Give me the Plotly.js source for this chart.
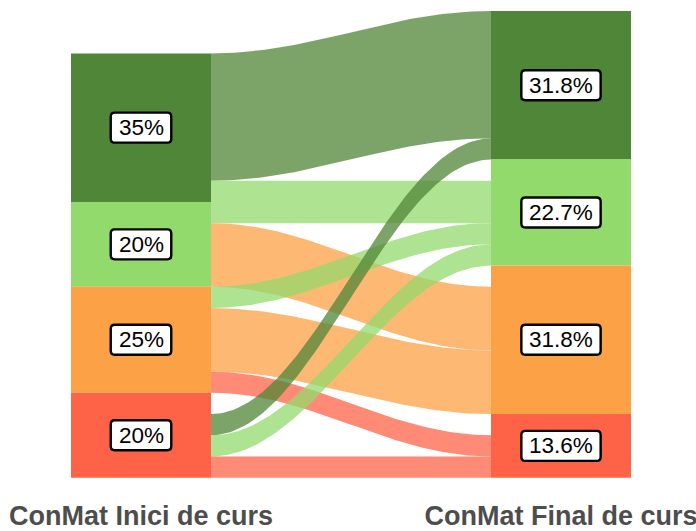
<!DOCTYPE html>
<html><head><meta charset="utf-8">
<script src="https://cdn.plot.ly/plotly-3.0.1.min.js"></script>
<style>html,body{margin:0;padding:0;background:#fff;} #chart{width:696px;height:531px;}</style>
</head><body><div id="chart"></div>
<script>
// ---- data ----
const categories = ['Nivell 1', 'Nivell 2', 'Nivell 3', 'Nivell 4'];
const categoryColors = ['#508637', '#93DA6C', '#FCA146', '#FF6347'];
const axisLabels = ['ConMat Inici de curs', 'ConMat Final de curs'];
const initialCounts = [7, 4, 5, 4];
const finalCounts = [7, 5, 7, 3];
const linkSource = [0, 0, 1, 1, 2, 2, 2, 3, 3, 3];
const linkTarget = [0, 1, 1, 2, 1, 2, 3, 0, 1, 3];
const linkValue  = [6, 1, 1, 3, 1, 3, 1, 1, 1, 1];

// ---- build ----
const W = 1/3;            // stratum width (axis units)
const LINK_ALPHA = 0.75;
const axX = [1, 2];

function bases(counts) {
  const b = [];
  for (let i = 0; i < counts.length; i++) {
    let s = 0;
    for (let j = i + 1; j < counts.length; j++) s += counts[j];
    b.push(s);
  }
  return b;
}
const leftBase = bases(initialCounts);
const rightBase = bases(finalCounts);

function rgba(hex, a) {
  const r = parseInt(hex.slice(1,3),16), g = parseInt(hex.slice(3,5),16), b = parseInt(hex.slice(5,7),16);
  return `rgba(${r},${g},${b},${a})`;
}

// stacking positions for links
const linkIdx = linkValue.map((_, i) => i);
const leftPos = {}, rightPos = {};
categories.forEach((_, s) => {
  let y = leftBase[s];
  linkIdx.filter(i => linkSource[i] === s).sort((a, b) => linkTarget[b] - linkTarget[a]).forEach(i => {
    leftPos[i] = [y, y + linkValue[i]]; y += linkValue[i];
  });
});
categories.forEach((_, t) => {
  let y = rightBase[t];
  linkIdx.filter(i => linkTarget[i] === t).sort((a, b) => linkSource[b] - linkSource[a]).forEach(i => {
    rightPos[i] = [y, y + linkValue[i]]; y += linkValue[i];
  });
});

const K = 0.37, N = 80;
function curve(x0, y0, x1, y1) {
  const dx = x1 - x0, px = [], py = [];
  const c1x = x0 + K*dx, c2x = x1 - K*dx;
  for (let k = 0; k <= N; k++) {
    const t = k / N, u = 1 - t;
    px.push(u*u*u*x0 + 3*u*u*t*c1x + 3*u*t*t*c2x + t*t*t*x1);
    py.push(u*u*u*y0 + 3*u*u*t*y0 + 3*u*t*t*y1 + t*t*t*y1);
  }
  return [px, py];
}

const traces = [];
// strata as bars
categories.forEach((c, i) => {
  traces.push({
    type: 'bar', x: axX, y: [initialCounts[i], finalCounts[i]],
    base: [leftBase[i], rightBase[i]], width: W,
    marker: { color: categoryColors[i], line: { width: 0 } },
    hoverinfo: 'skip', showlegend: false
  });
});
// flows
const xa = axX[0] + W/2, xb = axX[1] - W/2;
linkIdx.forEach(i => {
  const [top1x, top1y] = curve(xa, leftPos[i][1], xb, rightPos[i][1]);
  const [botx, boty] = curve(xa, leftPos[i][0], xb, rightPos[i][0]);
  const xs = top1x.concat(botx.slice().reverse());
  const ys = top1y.concat(boty.slice().reverse());
  traces.push({
    type: 'scatter', mode: 'lines', x: xs, y: ys, fill: 'toself',
    fillcolor: rgba(categoryColors[linkTarget[i]], LINK_ALPHA),
    line: { width: 0 }, hoverinfo: 'skip', showlegend: false
  });
});

// labels
function fmtPct(v, total) {
  return String(Number((v / total * 100).toFixed(1))) + '%';
}
const LABEL_FONT = 22.5;
const canvas = document.createElement('canvas');
const ctx = canvas.getContext('2d');
ctx.font = LABEL_FONT + 'px "Liberation Sans"';
const annotations = [], shapes = [];
function roundRect(w, h, r) {
  const a = w/2, b = h/2;
  return `M ${-a+r},${-b} L ${a-r},${-b} Q ${a},${-b} ${a},${-b+r} L ${a},${b-r} Q ${a},${b} ${a-r},${b} ` +
         `L ${-a+r},${b} Q ${-a},${b} ${-a},${b-r} L ${-a},${-b+r} Q ${-a},${-b} ${-a+r},${-b} Z`;
}
[[initialCounts, leftBase, axX[0]], [finalCounts, rightBase, axX[1]]].forEach(([counts, base, xpos]) => {
  const total = counts.reduce((a, b) => a + b, 0);
  counts.forEach((v, i) => {
    const txt = fmtPct(v, total);
    const yc = base[i] + v / 2;
    const tw = ctx.measureText(txt).width;
    shapes.push({
      type: 'path', xref: 'x', yref: 'y', xsizemode: 'pixel', ysizemode: 'pixel',
      xanchor: xpos, yanchor: yc, path: roundRect(tw + 15.5, 30, 4),
      fillcolor: '#ffffff', line: { color: '#000000', width: 2.4 }, layer: 'above'
    });
    annotations.push({
      x: xpos, y: yc, xref: 'x', yref: 'y', text: txt, showarrow: false,
      font: { family: 'Liberation Sans', size: LABEL_FONT, color: '#000000' },
      xanchor: 'center', yanchor: 'middle', borderpad: 0
    });
  });
});

// geometry
const B = 34;
const unitPx = 466.7 / 22;
const y1 = 22 + 11 / unitPx;
const y0 = y1 - (531 - B) / unitPx;

const layout = {
  width: 696, height: 531,
  margin: { l: 0, r: 0, t: 0, b: B, pad: 0 },
  paper_bgcolor: '#ffffff', plot_bgcolor: '#ffffff',
  barmode: 'overlay', hovermode: false, showlegend: false,
  xaxis: {
    range: [1 - 141/420, 2 + 135/420], showgrid: false, zeroline: false, showline: false,
    tickvals: axX, ticktext: axisLabels, ticks: '', ticklabeloverflow: 'allow',
    tickfont: { family: 'Liberation Sans', size: 27, color: '#4D4D4D', weight: 'bold' },
    fixedrange: true, automargin: false
  },
  yaxis: { range: [y0, y1], visible: false, fixedrange: true },
  annotations, shapes
};
Plotly.newPlot('chart', traces, layout, { displayModeBar: false, staticPlot: true });
</script>
</body></html>
